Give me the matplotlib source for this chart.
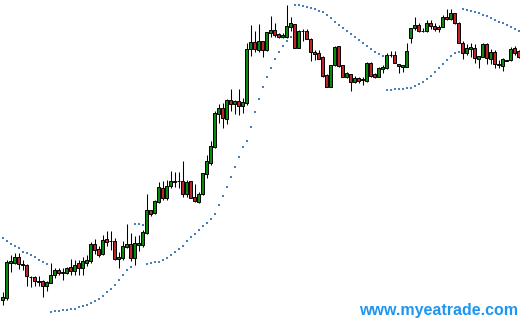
import numpy as np
import matplotlib
matplotlib.use("Agg")
import matplotlib.pyplot as plt

# OHLC prices (one bar per period)
opens = [20, 22, 57.5, 57, 63, 56, 55.5, 43.5, 43, 39, 39, 34.5, 37.5, 45, 50, 48, 47.5, 53, 49, 57,
         52.5, 57, 59.5, 76, 71.5, 66, 81, 79, 79, 60.7, 62, 73.3, 75.7, 62.5, 75, 75, 86.7, 110, 106.7, 118.3,
         131.7, 122.3, 134.3, 138.5, 139.3, 139, 126, 139, 122.7, 118.3, 125.7, 146, 156.7, 172.7, 206, 211.7, 201, 220, 216, 218.7,
         214.3, 217.3, 270.7, 277.7, 270, 279, 270, 287.5, 290, 286, 283.3, 283.3, 293.3, 296, 272.3, 289, 289, 280.7, 267.7, 267,
         263.3, 245, 233.3, 255, 274, 255, 242.7, 246, 238.3, 242.3, 240.7, 239.3, 257.3, 246, 243.3, 250.7, 251.7, 265, 265, 255.7,
         253.3, 253.3, 282.3, 291.7, 295, 289.3, 289.3, 297.3, 294, 292.7, 293.3, 303.3, 300.7, 306.7, 297.3, 277.3, 267.3, 271.3, 271.7, 260.7,
         263.3, 276, 261, 267.7, 255.7, 254.3, 259.7, 259.7, 271.7, 269]
highs = [28, 60, 65, 67, 67, 60, 56, 44.5, 44, 44, 40, 39.5, 57, 52, 52, 52, 53.5, 61, 60.5, 60.5,
         63, 65, 78, 81, 74, 85, 89.5, 89.5, 81.7, 68.3, 79.5, 96.5, 87, 84, 85, 90, 126, 110.5, 120, 138,
         139.5, 140, 149, 148, 148.5, 159, 140, 139.5, 136, 128, 147.3, 165, 179, 209.3, 216, 217.3, 221, 231, 220, 231,
         221.7, 277.3, 295, 289, 296, 279, 288.5, 304.5, 297, 287, 287, 315, 303.3, 296, 290, 290.7, 290.7, 281.7, 270, 270,
         264, 246, 255, 274, 274, 255, 248, 246, 244, 243.3, 243.3, 258.3, 258, 247.3, 253, 255, 266.7, 269.3, 269.3, 256,
         255, 276.7, 291.7, 303.3, 296.7, 291.7, 300, 300, 297.3, 295, 305, 310.7, 310.7, 307.3, 298.3, 279.3, 276, 277.3, 276, 264,
         277.3, 276.7, 270.7, 270, 260, 262, 260.3, 273.3, 274, 270]
lows = [15, 20, 48.5, 56, 51, 50, 34.5, 33.5, 34, 34, 23, 29, 37, 42, 45, 40, 46, 45, 45, 45,
        45, 54, 57, 66.5, 63.5, 65, 74, 70, 60, 51.7, 60, 72.5, 59, 55, 69, 73.3, 86, 104, 106, 117,
        120.5, 120, 132, 133, 132, 123.5, 123, 122, 118.3, 117, 125, 142, 155, 171.7, 197.3, 192.3, 196, 209, 206, 205,
        207.3, 215, 264.3, 267.7, 268.3, 263, 269, 283.5, 283, 282, 282, 281.7, 289, 271.7, 271.7, 279.3, 281, 259.3, 260, 260.7,
        243.3, 232.7, 232.7, 254, 253.3, 242.7, 242, 229.3, 236.7, 236.7, 235, 238.3, 243, 241.7, 243, 247.3, 251.3, 262.7, 256.7, 247.3,
        248.3, 252.7, 276.7, 290, 288.3, 288.3, 288.3, 290.7, 289.3, 288.3, 293.3, 300, 300, 296, 276.7, 260.7, 265, 263.3, 256.7, 252.3,
        262.7, 256, 256, 251.7, 252, 249.3, 259, 259, 265, 262]
closes = [23, 58, 59, 63, 56, 55.5, 44.5, 43, 39, 38.5, 34.5, 38, 45, 50, 47, 47.5, 52.5, 49, 55.5, 52.5,
          59, 60, 76, 70, 65, 80.5, 78.5, 78.7, 60.7, 63.3, 74, 75.7, 62, 76.7, 76.7, 87.7, 110, 105.7, 119, 132.7,
          122.3, 134, 139, 139.5, 138.8, 126, 137.7, 122.5, 119.5, 125.7, 146.7, 159, 174, 206.7, 211.7, 201.7, 220, 215.7, 218.7, 214.3,
          217.7, 270.7, 277.7, 270.7, 279, 270, 287.7, 290, 285.3, 283.3, 285, 294, 296.7, 272.3, 289, 288.7, 281.5, 267.7, 265.7, 261,
          244.3, 233.3, 255, 273.3, 254, 243.3, 247.3, 238.3, 242.3, 239, 240.5, 257.3, 244, 242.7, 252.3, 253.3, 265, 264.7, 256.7, 254,
          254.7, 269, 291.7, 295, 289.3, 289.1, 297.3, 294, 290.7, 291.3, 303.3, 300.7, 306.7, 297.3, 277.3, 267, 271.7, 273.3, 261.7, 264,
          276, 261.7, 267.7, 255.7, 255.5, 261, 259.5, 270.7, 267.3, 262.7]

# Parabolic SAR values, one per bar
sar = [82.5, 79.2, 76, 74.3, 71.7, 68.3, 67.3, 65, 62.7, 60.5, 58.3, 56.5,
       8.3, 8.8, 9.2, 9.6, 10, 10.7, 11.5, 12.7, 14, 15.3, 17, 19, 21.5, 24.5, 28, 31.5, 35.5, 40, 45, 50, 53.5,
       96, 96, 95.5,
       56, 56.7, 57.7, 58, 60, 61.7, 64.7, 67.7, 70.7, 74, 78.7, 83, 86, 89.7, 94, 97.3, 101, 105.7, 114.7, 124,
       133, 143, 153.3, 163.3, 172.7, 179.3, 193.3, 208.3, 221, 232.7, 242.7, 251.7, 260.7, 268.3, 274.3, 279, 283.3,
       315, 315, 314, 313, 312, 310.7, 309.3, 307.7, 305.5, 302.2, 298.3, 295, 292, 289, 285.7, 282.7, 280, 277.3,
       274, 271, 268.3, 266, 264,
       230, 230, 230.7, 230.7, 231, 231.7, 232.5, 234, 236, 238, 241, 244, 248, 251.7, 256, 260.5, 264.5, 267.5, 268.5,
       311.3, 310.3, 309.3, 308, 307, 305.3, 303.7, 302.2, 300, 298.5, 296.7, 295, 293, 291.3, 289.2]

o = np.array(opens)
h = np.array(highs)
l = np.array(lows)
c = np.array(closes)
x = np.arange(len(o))

fig = plt.figure(figsize=(5.2, 3.2), dpi=100)
ax = fig.add_axes([0, 0, 1, 1])
ax.axis('off')

# wicks
ax.vlines(x, l, h, color='black', linewidth=0.75, zorder=1)

# bodies
up = c >= o
colors = np.where(up, '#0a8a0a', '#c0242b')
ax.bar(x, np.abs(c - o), bottom=np.minimum(o, c), width=0.68, color=colors,
       edgecolor='black', linewidth=0.7, zorder=2)

# SAR dots
ax.plot(x, sar, 's', markersize=2.15, color='#4a7fbd', markeredgewidth=0,
        antialiased=False, zorder=3)

ax.set_xlim(-0.675, 129.325)
ax.set_ylim(0, 320)

fig.text(0.9967, 0.0156, 'www.myeatrade.com', ha='right', va='baseline',
         fontsize=11.5, fontweight='bold', family='Liberation Sans', color='#1e96f0')

fig.savefig('out.png', dpi=100)
